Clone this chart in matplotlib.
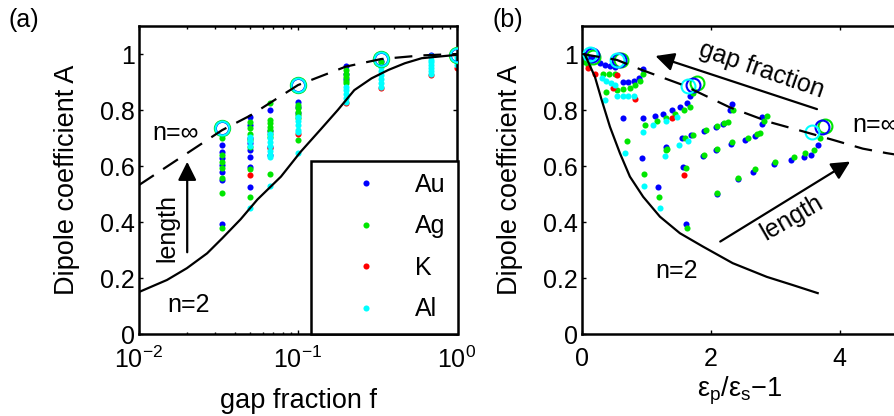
import numpy as np
import matplotlib
matplotlib.use('Agg')
import matplotlib.pyplot as plt
from matplotlib.lines import Line2D
from matplotlib.ticker import LogLocator, FixedLocator, NullFormatter

plt.rcParams['font.family'] = ['Liberation Sans', 'DejaVu Sans']
plt.rcParams['mathtext.fontset'] = 'custom'
plt.rcParams['mathtext.rm'] = 'Liberation Sans'
plt.rcParams['mathtext.it'] = 'Liberation Sans:italic'
plt.rcParams['font.size'] = 18

# ---- data ----
metals = ['Au', 'Ag', 'K', 'Al']
colors = ['#0000ff', '#00e600', '#ff0000', '#00ffff']

# (a) curves: A vs gap fraction f
n2_f = [0.0101, 0.015, 0.02, 0.0268, 0.0334, 0.0436, 0.0555, 0.0781, 0.104,
        0.139, 0.178, 0.226, 0.29, 0.37, 0.47, 0.6, 1.0]
n2_a = [0.151, 0.193, 0.235, 0.288, 0.342, 0.41, 0.48, 0.562, 0.651,
        0.731, 0.80, 0.871, 0.913, 0.943, 0.967, 0.985, 0.997]
ninf_f = [0.01, 0.0333, 0.05, 0.1, 0.2, 0.333, 0.6, 1.0]
ninf_a = [0.532, 0.728, 0.78, 0.889, 0.955, 0.982, 0.995, 1.0]

# (a) points, one list per gap-fraction column
f_cols = [1/30, 1/20, 1/15, 1/10, 1/5, 1/3, 0.69, 1.0]
au_cols = [[0.675, 0.651, 0.627, 0.604, 0.580, 0.55, 0.392],
           [0.776, 0.746, 0.70, 0.681, 0.657, 0.633, 0.595, 0.524],
           [0.800, 0.725, 0.669, 0.64],
           [0.83, 0.81, 0.79],
           [0.957, 0.93, 0.91],
           [0.975],
           [0.998],
           []]
ag_cols = [[0.699, 0.639, 0.615, 0.592, 0.558, 0.502, 0.378],
           [0.758, 0.734, 0.716, 0.693, 0.669, 0.588, 0.488],
           [0.824, 0.764, 0.752, 0.74, 0.728, 0.716, 0.705, 0.57],
           [0.818, 0.806, 0.794, 0.782, 0.77, 0.693],
           [0.943, 0.93, 0.917, 0.905, 0.895],
           [0.973],
           [],
           []]
k_cols = [[], [0.568], [0.665], [0.715], [0.825], [0.877], [0.925], [0.949]]
al_cols = [[],
           [0.705, 0.69, 0.67, 0.449],
           [0.716, 0.70, 0.685, 0.67, 0.655, 0.639, 0.633, 0.529],
           [0.776, 0.76, 0.745, 0.73, 0.722, 0.645],
           [0.883, 0.87, 0.856, 0.843, 0.830],
           [0.955, 0.94, 0.925, 0.91, 0.895, 0.883],
           [0.992, 0.98, 0.97, 0.96, 0.95, 0.94, 0.93],
           [0.99, 0.98, 0.97, 0.96]]
circ_f = [1/30, 1/10, 1/3, 1.0]
circ_a = [0.734, 0.889, 0.982, 0.998]

# (b) curves: A vs eps_p/eps_s - 1
n2_x = [0.04, 0.2, 0.305, 0.434, 0.59, 0.744, 0.95, 1.21, 1.52, 1.88, 2.34, 2.87, 3.27, 3.66]
n2_y = [1.0, 0.919, 0.836, 0.74, 0.645, 0.562, 0.49, 0.419, 0.36, 0.312, 0.253, 0.204, 0.175, 0.146]
ninf_x = [0, 0.54, 0.93, 1.57, 2.29, 2.91, 3.38, 3.9, 4.36, 4.73, 5.0]
ninf_y = [1.0, 0.979, 0.943, 0.889, 0.81, 0.757, 0.727, 0.693, 0.662, 0.646, 0.636]

# (b) points
au_x = [0.02, 0.08, 0.15, 0.28, 0.36, 0.44, 0.52, 0.64, 0.72, 0.80, 0.88, 0.95,
        0.64, 0.95, 1.13, 1.25, 1.4, 1.52, 1.63, 1.68,
        0.93, 1.55, 1.7, 1.9, 2.08, 2.19, 2.3, 2.33,
        1.18, 1.3, 1.57, 1.88, 2.08, 2.31, 2.53, 2.68, 2.8, 2.8,
        1.61, 2.09, 2.42, 2.65, 2.98, 3.24, 3.44, 3.55, 3.66]
au_y = [1.0, 0.99, 0.985, 0.968, 0.962, 0.958, 0.955, 0.90, 0.90, 0.905, 0.915, 0.945,
        0.77, 0.77, 0.78, 0.785, 0.80, 0.81, 0.825, 0.85,
        0.63, 0.70, 0.71, 0.725, 0.74, 0.75, 0.80, 0.82,
        0.525, 0.668, 0.596, 0.636, 0.657, 0.68, 0.693, 0.707, 0.75, 0.775,
        0.393, 0.50, 0.555, 0.58, 0.607, 0.62, 0.632, 0.64, 0.675]
ag_x = [0.05, 0.1, 0.33, 0.42, 0.51, 0.37, 0.54, 0.64, 0.75, 0.83, 0.9, 0.95,
        0.98, 0.7, 1.16, 1.3, 1.45, 1.58, 1.67, 1.72,
        0.96, 1.32, 1.6, 1.72, 1.92, 2.1, 2.2, 2.26, 2.34,
        1.2, 1.3, 1.61, 1.89, 2.1, 2.33, 2.57, 2.72, 2.76, 2.83, 2.87,
        1.63, 2.09, 2.43, 2.68, 3.0, 3.29, 3.47, 3.6, 3.69]
ag_y = [0.97, 0.96, 0.93, 0.93, 0.93, 0.865, 0.87, 0.875, 0.88, 0.89, 0.905, 0.93,
        0.745, 0.69, 0.76, 0.77, 0.785, 0.80, 0.81, 0.86,
        0.57, 0.66, 0.70, 0.712, 0.727, 0.742, 0.752, 0.757, 0.80,
        0.49, 0.657, 0.593, 0.64, 0.66, 0.685, 0.70, 0.713, 0.717, 0.76, 0.78,
        0.38, 0.503, 0.557, 0.59, 0.614, 0.632, 0.646, 0.657, 0.70]
k_x = [0.1, 0.2, 0.48, 0.54, 0.82, 1.4, 1.58]
k_y = [0.95, 0.93, 0.88, 0.925, 0.84, 0.77, 0.568]
al_x = [0.05, 0.12, 0.31, 0.38, 0.45, 0.51, 0.54, 0.64, 0.72, 0.8, 0.36,
        0.95, 0.67, 1.1, 1.3, 1.47, 1.5, 1.65, 1.29, 0.96, 1.21]
al_y = [0.99, 0.97, 0.915, 0.905, 0.895, 0.89, 0.85, 0.85, 0.85, 0.85, 0.836,
        0.72, 0.645, 0.746, 0.76, 0.775, 0.675, 0.69, 0.635, 0.53, 0.45]
circ_x_al = [0.12, 0.55, 1.65, 3.57]
circ_y_al = [1.0, 0.978, 0.885, 0.72]
circ_x_au = [0.15, 0.58, 1.72, 3.72]
circ_y_au = [0.995, 0.98, 0.89, 0.74]
circ_x_ag = [0.17, 0.6, 1.78, 3.78]
circ_y_ag = [0.99, 0.98, 0.895, 0.742]

yticks = [0, 0.2, 0.4, 0.6, 0.8, 1]
ytick_labels = ['0', '0.2', '0.4', '0.6', '0.8', '1']

# ---- figure ----
W, H = 894, 416
fig = plt.figure(figsize=(W / 100, H / 100), dpi=100)
ax1 = fig.add_axes([139 / W, (H - 334) / H, 318 / W, 308 / H])
ax2 = fig.add_axes([582 / W, (H - 334) / H, 322 / W, 308 / H])

DOT = 4.4
DASH = (0, (8, 5))
LABEL_FS = 19.5

def style(ax):
    for s in ax.spines.values():
        s.set_linewidth(1.8)
    ax.tick_params(which='both', direction='in', top=True, right=True, width=1.0)
    ax.tick_params(which='major', length=3)
    ax.tick_params(which='minor', length=1.8)
    ax.tick_params(axis='y', pad=3)
    ax.tick_params(axis='x', pad=9)
    ax.set_ylim(0, 1.1)
    ax.set_yticks(yticks)
    ax.set_yticklabels(ytick_labels)
    ax.set_ylabel('Dipole coefficient A', fontsize=LABEL_FS)

# ---- (a) ----
ax = ax1
ax.set_xscale('log')
ax.set_xlim(0.01, 1)
ax.xaxis.set_major_locator(LogLocator(base=10, numticks=5))
ax.xaxis.set_minor_locator(LogLocator(base=10, subs=np.arange(2, 10), numticks=10))
ax.xaxis.set_minor_formatter(NullFormatter())
style(ax)
ax.plot(n2_f, n2_a, color='k', lw=1.6, zorder=4)
ax.plot(ninf_f, ninf_a, color='k', lw=1.6, ls=DASH, zorder=4)
for cols, c in zip([au_cols, ag_cols, k_cols, al_cols], colors):
    fx = [f for f, col in zip(f_cols, cols) for _ in col]
    fy = [a for col in cols for a in col]
    ax.plot(fx, fy, 'o', color=c, ms=DOT, mec='none', zorder=2)
for c, ms in [(colors[1], 11), (colors[0], 9.5), (colors[3], 10)]:
    ax.plot(circ_f, circ_a, 'o', mfc='none', mec=c, ms=ms, mew=1.5, zorder=3)

ax.annotate('', xy=(0.0201, 0.625), xytext=(0.0201, 0.282),
            arrowprops=dict(arrowstyle='-|>', lw=1.6, color='k', mutation_scale=28))
ax.text(0.01503, 0.379, 'length', rotation=90, ha='center', va='center')
ax.text(0.0169, 0.718, 'n=∞', ha='center', va='center')
ax.text(0.0204, 0.104, 'n=2', ha='center', va='center')
ax.set_xlabel('gap fraction f', fontsize=LABEL_FS)
ax.xaxis.set_label_coords(0.5, -0.175)
ax.yaxis.set_label_coords(-0.186, 0.5)

handles = [Line2D([], [], ls='none', marker='o', ms=DOT, mec='none', color=c) for c in colors]
leg = ax.legend(handles, metals, loc='lower right', bbox_to_anchor=(1.003, 0.0),
                borderaxespad=0, fancybox=False, edgecolor='k', framealpha=1,
                borderpad=0.5, handlelength=3.4, handletextpad=0.25, labelspacing=0.7)
leg.get_frame().set_linewidth(1.8)
leg.set_zorder(10)

# ---- (b) ----
ax = ax2
ax.set_xlim(0, 5)
ax.set_xticks([0, 2, 4])
ax.set_xticklabels(['0', '2', '4'])
ax.xaxis.set_minor_locator(FixedLocator([]))
style(ax)
ax.plot(n2_x, n2_y, color='k', lw=1.6, zorder=4)
ax.plot(ninf_x, ninf_y, color='k', lw=1.6, ls=DASH, zorder=4)
for px, py, c in zip([au_x, ag_x, k_x, al_x], [au_y, ag_y, k_y, al_y], colors):
    ax.plot(px, py, 'o', color=c, ms=DOT, mec='none', zorder=2)
for cx, cy, c, ms in [(circ_x_ag, circ_y_ag, colors[1], 10),
                      (circ_x_au, circ_y_au, colors[0], 10),
                      (circ_x_al, circ_y_al, colors[3], 10)]:
    ax.plot(cx, cy, 'o', mfc='none', mec=c, ms=ms, mew=1.5, zorder=3)

ax.annotate('', xy=(1.10, 0.996), xytext=(3.69, 0.80),
            arrowprops=dict(arrowstyle='-|>', lw=1.6, color='k', mutation_scale=28))
ax.text(2.79, 0.943, 'gap fraction', rotation=-19, ha='center', va='center')
ax.annotate('', xy=(4.2, 0.621), xytext=(2.11, 0.325),
            arrowprops=dict(arrowstyle='-|>', lw=1.6, color='k', mutation_scale=28))
ax.text(3.26, 0.414, 'length', rotation=30, ha='center', va='center')
ax.text(1.47, 0.225, 'n=2', ha='center', va='center')
ax.text(4.2, 0.746, 'n=∞', ha='left', va='center')
ax.set_xlabel(r'ε$_{\rm p}$/ε$_{\rm s}$−1', fontsize=LABEL_FS)
ax.xaxis.set_label_coords(0.49, -0.133)
ax.yaxis.set_label_coords(-0.183, 0.5)

fig.text(24 / W, 1 - 20 / H, '(a)', ha='center', va='center')
fig.text(508 / W, 1 - 20 / H, '(b)', ha='center', va='center')

fig.savefig('out.png', dpi=100)
